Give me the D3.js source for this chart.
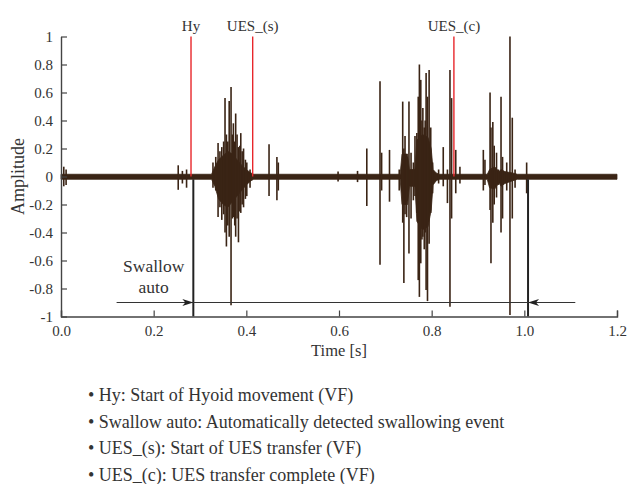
<!DOCTYPE html>
<html>
<head>
<meta charset="utf-8">
<script src="https://cdnjs.cloudflare.com/ajax/libs/d3/7.8.5/d3.min.js"></script>
<style>
  body { margin: 0; background: #fff; }
  svg text { font-family: "Liberation Serif", "Times New Roman", serif; fill: #333; }
</style>
</head>
<body>
<script>
// background noise band + dense burst envelope: [time, upper, lower]
const envelope = [
  [0.000, 0.016, -0.02], [0.325, 0.016, -0.02], [0.332, 0.07, -0.07],
  [0.340, 0.12, -0.16], [0.350, 0.15, -0.20], [0.360, 0.18, -0.22],
  [0.370, 0.16, -0.18], [0.380, 0.12, -0.14], [0.390, 0.08, -0.10],
  [0.400, 0.05, -0.06], [0.410, 0.025, -0.03], [0.416, 0.016, -0.02],
  [0.732, 0.016, -0.02], [0.736, 0.16, -0.20], [0.748, 0.16, -0.20],
  [0.752, 0.05, -0.07], [0.764, 0.05, -0.07], [0.768, 0.26, -0.32],
  [0.780, 0.30, -0.38], [0.792, 0.28, -0.36], [0.799, 0.20, -0.24],
  [0.803, 0.05, -0.06], [0.810, 0.025, -0.03], [0.816, 0.016, -0.02],
  [0.920, 0.016, -0.02], [0.925, 0.05, -0.08], [0.936, 0.07, -0.09],
  [0.945, 0.035, -0.045], [0.950, 0.05, -0.07], [0.958, 0.035, -0.05],
  [0.975, 0.025, -0.03], [0.985, 0.016, -0.02], [1.200, 0.016, -0.02]
];

// single peaks: [time, upper, lower]
const spikes = [
  [0.006, 0.07, -0.07], [0.011, 0.05, -0.06],
  [0.253, 0.08, -0.095], [0.262, 0.04, -0.05], [0.271, 0.05, -0.08],
  [0.328, 0.10, -0.08], [0.334, 0.14, -0.10], [0.339, 0.24, -0.29],
  [0.343, 0.18, -0.22], [0.347, 0.21, -0.31], [0.351, 0.25, -0.27],
  [0.354, 0.56, -0.40], [0.357, 0.30, -0.50], [0.360, 0.25, -0.35],
  [0.363, 0.54, -0.43], [0.367, 0.64, -0.92], [0.370, 0.30, -0.30],
  [0.372, 0.38, -0.29], [0.375, 0.25, -0.35], [0.377, 0.45, -0.43],
  [0.380, 0.30, -0.30], [0.383, 0.21, -0.47], [0.386, 0.22, -0.25],
  [0.388, 0.31, -0.26], [0.391, 0.18, -0.20], [0.394, 0.20, -0.22],
  [0.398, 0.12, -0.16], [0.401, 0.10, -0.14], [0.408, 0.05, -0.08],
  [0.449, 0.23, -0.14], [0.466, 0.14, -0.17], [0.469, 0.10, -0.10],
  [0.598, 0.035, -0.035], [0.640, 0.04, -0.04],
  [0.660, 0.20, -0.21], [0.6885, 0.68, -0.63], [0.692, 0.17, -0.10],
  [0.709, 0.19, -0.18], [0.730, 0.05, -0.10], [0.7375, 0.535, -0.33],
  [0.740, 0.20, -0.76], [0.7425, 0.29, -0.27], [0.746, 0.14, -0.29],
  [0.751, 0.535, -0.55], [0.7555, 0.17, -0.30], [0.7605, 0.10, -0.17],
  [0.764, 0.29, -0.14], [0.768, 0.31, -0.26], [0.771, 0.57, -0.74],
  [0.7735, 0.80, -0.86], [0.7765, 0.69, -0.62], [0.779, 0.40, -0.45],
  [0.781, 0.49, -0.43], [0.784, 0.35, -0.52], [0.786, 0.40, -0.40],
  [0.788, 0.74, -0.81], [0.791, 0.57, -0.89], [0.7945, 0.76, -0.48],
  [0.798, 0.35, -0.26], [0.802, 0.10, -0.12], [0.815, 0.05, -0.05],
  [0.825, 0.21, -0.07], [0.834, 0.05, -0.19], [0.8395, 0.76, -0.93],
  [0.843, 0.56, -0.30], [0.852, 0.19, -0.12], [0.861, 0.07, -0.05],
  [0.9115, 0.19, -0.10], [0.915, 0.12, -0.06], [0.926, 0.60, -0.24],
  [0.928, 0.35, -0.62], [0.932, 0.39, -0.33], [0.935, 0.22, -0.20],
  [0.940, 0.17, -0.15], [0.944, 0.05, -0.06], [0.9497, 0.57, -0.40],
  [0.953, 0.14, -0.30], [0.962, 0.10, -0.10], [0.969, 1.00, -0.99],
  [0.974, 0.42, -0.30], [0.980, 0.05, -0.08], [1.005, 0.10, -0.12]
];

// red markers from video fluoroscopy
const markerNames = ['Hy', 'UES_(s)', 'UES_(c)'];
const markerTimes = [0.2806, 0.4137, 0.848];

// automatic detection bounds
const autoTimes = [0.2856, 1.008];
const arrowSpan = [0.12, 1.11];
const arrowLevel = -0.9;

const xTicks = [0, 0.2, 0.4, 0.6, 0.8, 1.0, 1.2];
const yTicks = [-1, -0.8, -0.6, -0.4, -0.2, 0, 0.2, 0.4, 0.6, 0.8, 1];

const notes = [
  '• Hy: Start of Hyoid movement (VF)',
  '• Swallow auto: Automatically detected swallowing event',
  '• UES_(s): Start of UES transfer (VF)',
  '• UES_(c): UES transfer complete (VF)'
];

const margin = { t: 36.5, l: 61 };
const w = 556;
const h = 280;

const svg = d3.select('body').
append('svg').
attr('width', 629).
attr('height', 484);

const g = svg.append('g').
attr('transform', `translate(${margin.l},${margin.t})`);

const x = d3.scaleLinear().domain([0, 1.2]).range([0, w]);
const y = d3.scaleLinear().domain([-1, 1]).range([h, 0]);

const sig = '#3a2415';

// signal
const area = d3.area().
x(d => x(d[0])).
y0(d => y(d[2])).
y1(d => y(d[1]));

g.append('path').
datum(envelope).
attr('d', area).
attr('fill', sig).
attr('stroke', sig).
attr('stroke-width', 0.8);

g.selectAll('.spike').
data(spikes).
enter().append('line').
attr('class', 'spike').
attr('x1', d => x(d[0])).
attr('x2', d => x(d[0])).
attr('y1', d => y(d[1])).
attr('y2', d => y(d[2])).
attr('stroke', sig).
attr('stroke-width', 1.6);

// red VF markers
g.selectAll('.marker').
data(markerTimes).
enter().append('line').
attr('class', 'marker').
attr('x1', d => x(d)).
attr('x2', d => x(d)).
attr('y1', y(1)).
attr('y2', y(0)).
attr('stroke', '#e8262b').
attr('stroke-width', 1.4);

g.selectAll('.marker-label').
data(markerNames).
enter().append('text').
attr('x', (d, i) => x(markerTimes[i])).
attr('y', -6).
attr('text-anchor', 'middle').
style('font-size', '15px').
text(d => d);

// detection bounds
g.selectAll('.auto').
data(autoTimes).
enter().append('line').
attr('x1', d => x(d)).
attr('x2', d => x(d)).
attr('y1', y(-0.02)).
attr('y2', y(-1)).
attr('stroke', '#222').
attr('stroke-width', 2);

// arrow line + heads
g.append('line').
attr('x1', x(arrowSpan[0])).
attr('x2', x(arrowSpan[1])).
attr('y1', y(arrowLevel)).
attr('y2', y(arrowLevel)).
attr('stroke', '#333').
attr('stroke-width', 1);

const ay = y(arrowLevel);
g.append('path').
attr('d', `M${x(autoTimes[0])},${ay} l-11,-3.5 l3,3.5 l-3,3.5 z`).
attr('fill', '#222');
g.append('path').
attr('d', `M${x(autoTimes[1])},${ay} l11,-3.5 l-3,3.5 l3,3.5 z`).
attr('fill', '#222');

g.append('text').
attr('x', x(0.2)).
attr('y', y(-0.68)).
attr('text-anchor', 'middle').
style('font-size', '17.5px').
selectAll('tspan').
data(['Swallow', 'auto']).
enter().append('tspan').
attr('x', x(0.2)).
attr('dy', (d, i) => i ? 21 : 0).
text(d => d);

// axes
const xAxis = d3.axisBottom(x).
tickValues(xTicks).
tickFormat(d3.format('.1f')).
tickSizeInner(-6).
tickSizeOuter(-6).
tickPadding(9);

const yAxis = d3.axisLeft(y).
tickValues(yTicks).
tickFormat(d => String(+d.toFixed(1))).
tickSizeInner(-6).
tickSizeOuter(0).
tickPadding(8);

const gx = g.append('g').
attr('transform', `translate(0,${h})`).
call(xAxis);

const gy = g.append('g').call(yAxis);

[gx, gy].forEach(a => {
  a.select('.domain').attr('stroke', '#444').attr('stroke-width', 1.4);
  a.selectAll('.tick line').attr('stroke', '#444').attr('stroke-width', 1.2);
  a.selectAll('.tick text').
  style('font-family', '"Liberation Serif", serif').
  style('font-size', '15px').
  attr('fill', '#333');
});

g.append('text').
attr('x', w / 2).
attr('y', h + 39).
attr('text-anchor', 'middle').
style('font-size', '16.5px').
text('Time [s]');

g.append('text').
attr('transform', `translate(${-37},${h / 2}) rotate(-90)`).
attr('text-anchor', 'middle').
style('font-size', '18px').
text('Amplitude');

// notes below chart
svg.selectAll('.note').
data(notes).
enter().append('text').
attr('class', 'note').
attr('x', 88).
attr('y', (d, i) => 401 + i * 26.5).
style('font-size', '18px').
text(d => d);
</script>
</body>
</html>
